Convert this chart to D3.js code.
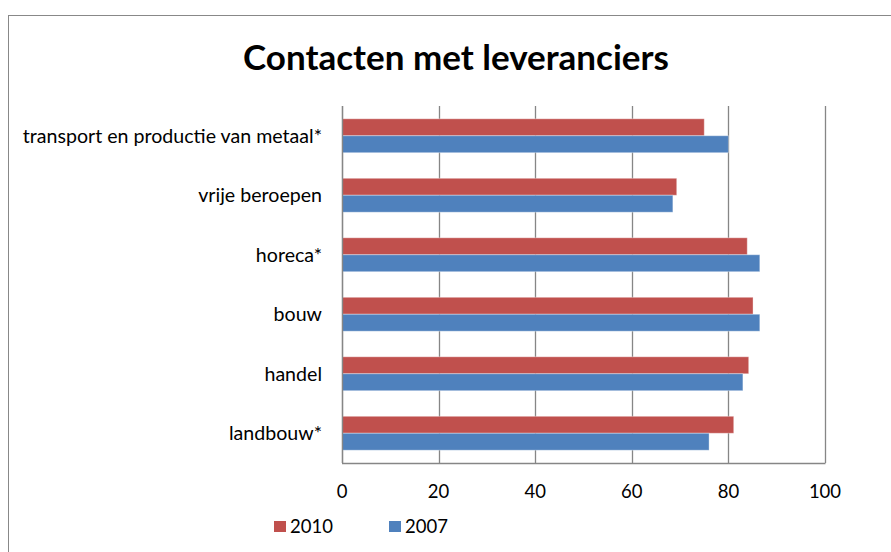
<!DOCTYPE html>
<html>
<head>
<meta charset="utf-8">
<script src="https://cdn.jsdelivr.net/npm/d3@7"></script>
<style>
  body { margin: 0; background: #fff; }
  svg { display: block; font-family: Lato, "Open Sans", sans-serif; }
</style>
</head>
<body>
<svg width="891" height="552"></svg>
<script>
// data
let categories = ["transport en productie van metaal*", "vrije beroepen", "horeca*", "bouw", "handel", "landbouw*"];
let series = ["2010", "2007"];
let values2010 = [75.0, 69.3, 83.9, 85.1, 84.2, 81.1];
let values2007 = [80.0, 68.5, 86.5, 86.5, 83.0, 76.0];
let xTicks = [0, 20, 40, 60, 80, 100];
let colors = { "2010": "#C0504D", "2007": "#4F81BD" };

let rows = categories.map(function(c, i) {
  return { cat: c, "2010": values2010[i], "2007": values2007[i] };
});

let svg = d3.select("svg");

// outer chart border
svg.append("rect")
  .attr("x", 8.5).attr("y", 15.5)
  .attr("width", 900).attr("height", 560)
  .attr("fill", "#fff")
  .attr("stroke", "#888").attr("stroke-width", 1);

svg.append("text")
  .attr("x", 456).attr("y", 70)
  .attr("text-anchor", "middle")
  .style("font-size", "35px")
  .style("font-weight", "bold")
  .text("Contacten met leveranciers");

let plotL = 342, plotR = 825, plotT = 106, plotB = 463;

let x = d3.scaleLinear().domain([0, 100]).range([plotL, plotR]);
let y = d3.scaleBand().domain(categories).range([plotT, plotB]).paddingInner(0.43).paddingOuter(0.215);
let ySub = d3.scaleBand().domain(series).range([0, y.bandwidth()]);

// gridlines
svg.append("g")
  .selectAll("line")
  .data(xTicks)
  .enter().append("line")
    .attr("x1", function(d) { return Math.round(x(d)) + 0.5; })
    .attr("x2", function(d) { return Math.round(x(d)) + 0.5; })
    .attr("y1", plotT).attr("y2", plotB)
    .style("stroke", "#868686")
    .style("stroke-width", 1.3);

// bars
let groups = svg.append("g")
  .selectAll("g")
  .data(rows)
  .enter().append("g")
    .attr("transform", function(d) { return "translate(0," + y(d.cat) + ")"; });

groups.selectAll("rect")
  .data(function(d) { return series.map(function(s) { return { s: s, v: d[s] }; }); })
  .enter().append("rect")
    .attr("x", x(0))
    .attr("y", function(d) { return ySub(d.s); })
    .attr("width", function(d) { return x(d.v) - x(0); })
    .attr("height", ySub.bandwidth())
    .attr("fill", function(d) { return colors[d.s]; })
    .style("stroke", "#fff")
    .style("stroke-opacity", 0.35)
    .style("stroke-width", 1);

// axes lines
svg.append("line")
  .attr("x1", plotL).attr("x2", plotR + 0.5)
  .attr("y1", plotB + 0.5).attr("y2", plotB + 0.5)
  .style("stroke", "#868686").style("stroke-width", 1.3);
svg.append("line")
  .attr("x1", plotL + 0.5).attr("x2", plotL + 0.5)
  .attr("y1", plotT).attr("y2", plotB)
  .style("stroke", "#868686").style("stroke-width", 1.3);

// x tick labels
svg.append("g")
  .selectAll("text")
  .data(xTicks)
  .enter().append("text")
    .attr("x", function(d) { return x(d); })
    .attr("y", 498)
    .attr("text-anchor", "middle")
    .style("font-size", "18.5px")
    .text(function(d) { return d; });

// category labels
svg.append("g")
  .selectAll("text")
  .data(categories)
  .enter().append("text")
    .attr("x", 322)
    .attr("y", function(d) { return y(d) + y.bandwidth() / 2 + 7; })
    .attr("text-anchor", "end")
    .style("font-size", "19.6px")
    .text(function(d) { return d; });

// legend
let legendX = [274, 389];
let legend = svg.append("g")
  .selectAll("g")
  .data(series)
  .enter().append("g")
    .attr("transform", function(d, i) { return "translate(" + legendX[i] + ",521)"; });
legend.append("rect")
  .attr("width", 12).attr("height", 11)
  .attr("fill", function(d) { return colors[d]; });
legend.append("text")
  .attr("x", 16).attr("y", 12)
  .style("font-size", "18.5px")
  .text(function(d) { return d; });
</script>
</body>
</html>
